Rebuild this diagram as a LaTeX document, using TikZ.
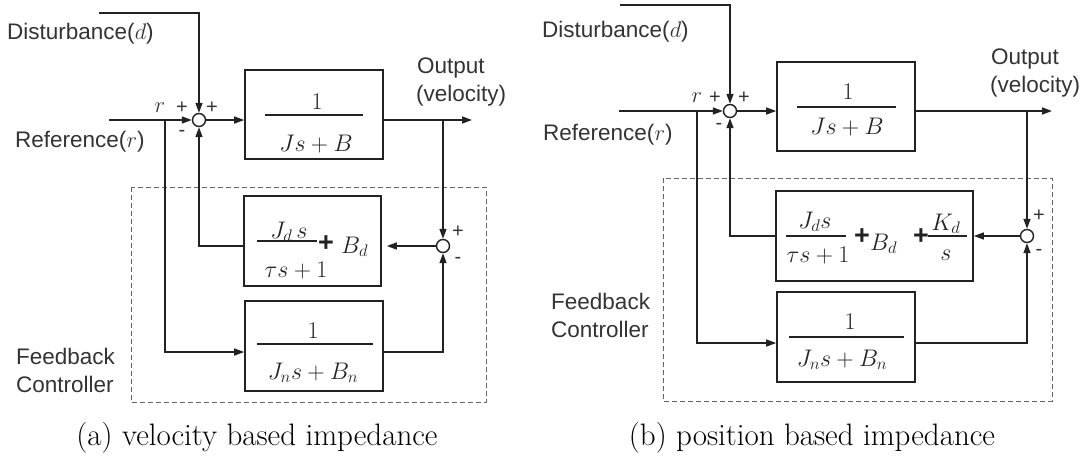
\RequirePackage{fix-cm}
\documentclass[tikz,border=0pt]{standalone}
\usepackage{fontspec}
\setsansfont{Liberation Sans}
\usetikzlibrary{arrows.meta}
\definecolor{ink}{HTML}{222222}
\definecolor{txt}{HTML}{333333}
\begin{document}
\begin{tikzpicture}[x=1pt,y=-1pt,
  line/.style={draw=ink, line width=1.4pt},
  arr/.style={line, -{Triangle[length=10pt,width=7pt]}},
  blk/.style={draw=ink, line width=1.6pt, rectangle, inner sep=0pt},
  sumc/.style={draw=ink, line width=1.4pt, circle, minimum size=13pt, inner sep=0pt, fill=white},
  lbl/.style={font=\sffamily\fontsize{22.5}{27}\selectfont, text=txt, inner sep=0pt},
  sgn/.style={font=\sffamily\fontsize{20}{22}\selectfont, text=txt, inner sep=0pt},
  mth/.style={font=\fontsize{24}{28}\selectfont, text=ink, inner sep=0pt},
  plusb/.style={font=\sffamily\bfseries\fontsize{27}{30}\selectfont, text=ink, inner sep=0pt},
  fbar/.style={draw=ink, line width=1.2pt},
  dashbox/.style={draw=black!60, line width=1pt, dash pattern=on 5pt off 3pt},
  capt/.style={font=\fontsize{31}{36}\selectfont, text=black, inner sep=0pt}
]
\useasboundingbox (0,0) rectangle (1090,461);

% ================= panel (a) =================
\draw[dashbox] (131,187) rectangle (486,402);
\node[blk, minimum width=138pt, minimum height=89pt] (plantA) at (314,114.5) {};
\node[blk, minimum width=137pt, minimum height=90pt] (JdA) at (312.5,241) {};
\node[blk, minimum width=138pt, minimum height=90pt] (JnA) at (314,346) {};
\node[sumc] (s1a) at (199,120) {};
\node[sumc] (s2a) at (443,246) {};

\coordinate (dA) at (99,13);
\coordinate (rA) at (109,120);
\coordinate (rbA) at (165,120);
\coordinate (oA) at (472,120);
\coordinate (obA) at (443,120);

\draw[arr] (dA) -| (s1a.north);
\draw[arr] (rA) -- (s1a.west);
\draw[arr] (s1a.east) -- (plantA.west |- s1a);
\draw[arr] (plantA.east |- oA) -- (oA);
\draw[arr] (obA) -- (s2a.north);
\draw[arr, shorten >=5pt] (s2a.west) -- (JdA.east |- s2a);
\draw[arr] (JdA.west |- s2a) -| (s1a.south);
\draw[arr] (rbA) |- ([yshift=-6pt]JnA.west);
\draw[arr] ([yshift=-6pt]JnA.east) -| (s2a.south);

% block contents (a)
\node[mth, anchor=base] (pAn) at (317,109) {$1$};
\draw[fbar] (265,115) -- (363,115);
\node[mth, anchor=base] (pAd) at (316,151) {$Js+B$};

\node[mth, anchor=base] (jAn) at (289,238) {$J_d\,s$};
\draw[fbar] (257,241) -- (317,241);
\node[mth, anchor=base] (jAd) at (296,277) {$\tau s+1$};
\node[plusb] (jAp) at (326,244) {+};
\node[mth, anchor=base west] (jAb) at (341,253) {$B_d$};

\node[mth, anchor=base] (nAn) at (313,338) {$1$};
\draw[fbar] (257,344) -- (373,344);
\node[mth, anchor=base] (nAd) at (313,379) {$J_n s+B_n$};

% labels (a)
\node[lbl, anchor=base west] (distA) at (7,39) {Disturbance($d$)};
\node[lbl, anchor=base west] (refA) at (15,147) {Reference($r$)};
\node[lbl, anchor=base] (rlA) at (160,112) {$r$};
\node[sgn] (pA1) at (182,108) {+};
\node[sgn] (pA2) at (212,108) {+};
\node[sgn] (mA1) at (182,133) {-};
\node[sgn] (pA3) at (458,232) {+};
\node[sgn] (mA2) at (458,260) {-};
\node[lbl, anchor=base west] (outA1) at (417,73) {Output};
\node[lbl, anchor=base west] (outA2) at (416,101) {(velocity)};
\node[lbl, anchor=base west] (fbA1) at (16,364) {Feedback};
\node[lbl, anchor=base west] (fbA2) at (16,392) {Controller};
\node[capt, anchor=base] (capA) at (257,445) {(a) velocity based impedance};

% ================= panel (b) =================
\draw[dashbox] (663,178) rectangle (1052,401);
\node[blk, minimum width=138pt, minimum height=89pt] (plantB) at (846,106.5) {};
\node[blk, minimum width=197pt, minimum height=90pt] (JdB) at (874.5,236) {};
\node[blk, minimum width=138pt, minimum height=90pt] (JnB) at (846,337) {};
\node[sumc] (s1b) at (730,111) {};
\node[sumc] (s2b) at (1027,236) {};

\coordinate (dB) at (620,5);
\coordinate (rB) at (619,111);
\coordinate (rbB) at (697,111);
\coordinate (oB) at (1052,111);
\coordinate (obB) at (1027,111);

\draw[arr] (dB) -| (s1b.north);
\draw[arr] (rB) -- (s1b.west);
\draw[arr] (s1b.east) -- (plantB.west |- s1b);
\draw[arr] (plantB.east |- oB) -- (oB);
\draw[arr] (obB) -- (s2b.north);
\draw[arr] (s2b.west) -- (JdB.east |- s2b);
\draw[arr] (JdB.west |- s2b) -| (s1b.south);
\draw[arr] (rbB) |- ([yshift=-6pt]JnB.west);
\draw[arr] ([yshift=-6pt]JnB.east) -| (s2b.south);

% block contents (b)
\node[mth, anchor=base] (pBn) at (848,99) {$1$};
\draw[fbar] (797,107) -- (896,107);
\node[mth, anchor=base] (pBd) at (847,134) {$Js+B$};

\node[mth, anchor=base] (jBn) at (815,228) {$J_d s$};
\draw[fbar] (786,236) -- (846,236);
\node[mth, anchor=base] (jBd) at (818,262) {$\tau s+1$};
\node[plusb] (jBp1) at (862,237) {+};
\node[mth, anchor=base west] (jBb) at (870,250) {$B_d$};
\node[plusb] (jBp2) at (921,237) {+};
\node[mth, anchor=base] (jBkn) at (946,230) {$K_d$};
\draw[fbar] (928,236) -- (967,236);
\node[mth, anchor=base] (jBkd) at (946,260) {$s$};

\node[mth, anchor=base] (nBn) at (850,329) {$1$};
\draw[fbar] (789,337) -- (904,337);
\node[mth, anchor=base] (nBd) at (842,366) {$J_n s+B_n$};

% labels (b)
\node[lbl, anchor=base west] (distB) at (542,37) {Disturbance($d$)};
\node[lbl, anchor=base west] (refB) at (543,140) {Reference($r$)};
\node[lbl, anchor=base] (rlB) at (697,102) {$r$};
\node[sgn] (pB1) at (715,98) {+};
\node[sgn] (pB2) at (744,98) {+};
\node[sgn] (mB1) at (719,126) {-};
\node[sgn] (pB3) at (1039,216) {+};
\node[sgn] (mB2) at (1039,252) {-};
\node[lbl, anchor=base west] (outB1) at (991,64) {Output};
\node[lbl, anchor=base west] (outB2) at (990,92) {(velocity)};
\node[lbl, anchor=base west] (fbB1) at (551,309) {Feedback};
\node[lbl, anchor=base west] (fbB2) at (551,337) {Controller};
\node[capt, anchor=base] (capB) at (812,445) {(b) position based impedance};
\end{tikzpicture}
\end{document}
